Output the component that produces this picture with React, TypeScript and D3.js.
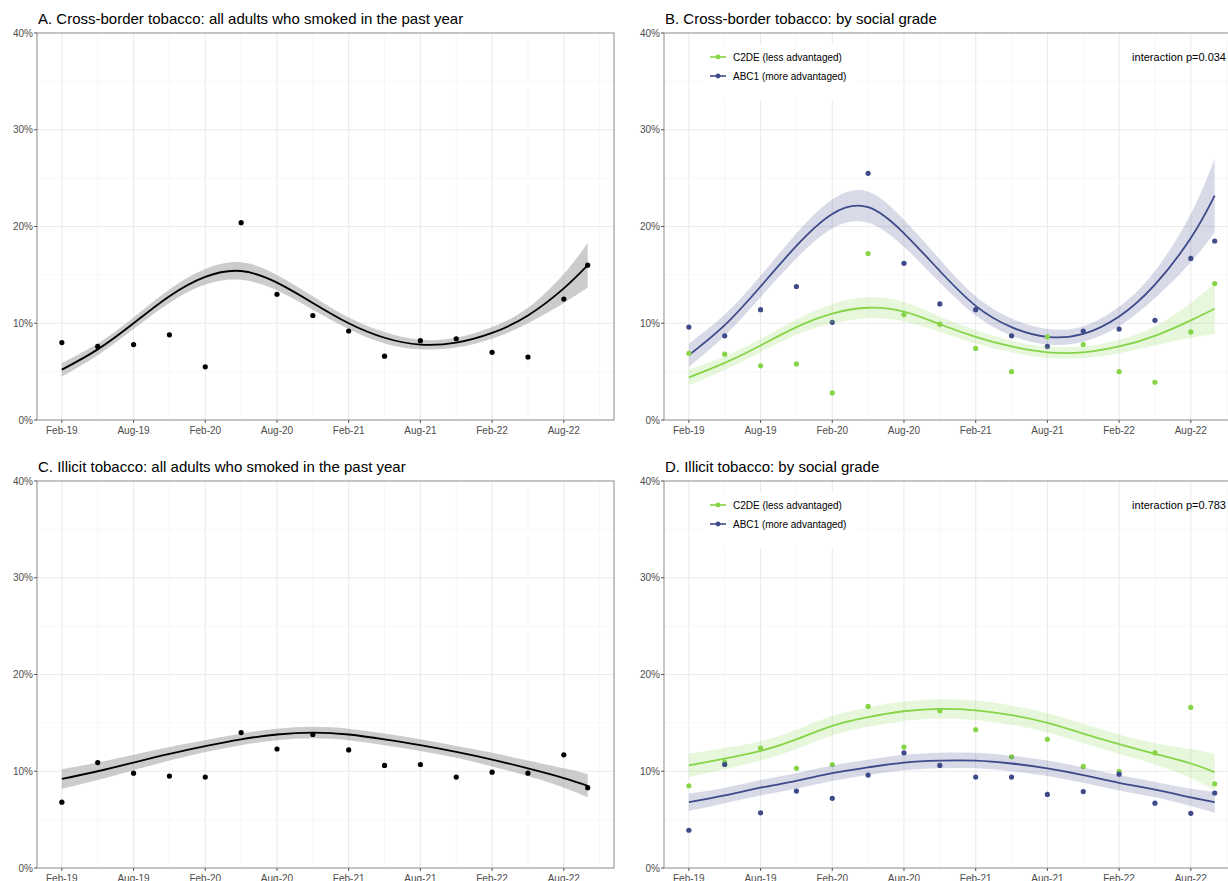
import React from "react";
import * as d3 from "d3";

const W = 1228;
const H = 881;

// months since Feb-19
const obsMonths = [0, 3, 6, 9, 12, 15, 18, 21, 24, 27, 30, 33, 36, 39, 42, 44];
const fitMonths = [0, 3, 6, 9, 12, 15, 18, 21, 24, 27, 30, 33, 36, 39, 42, 44];
const tickMonths = [0, 6, 12, 18, 24, 30, 36, 42];
const tickLabels = ["Feb-19", "Aug-19", "Feb-20", "Aug-20", "Feb-21", "Aug-21", "Feb-22", "Aug-22"];
const minorMonths = [3, 9, 15, 21, 27, 33, 39, 45];

// A
const aObs = [8.0, 7.6, 7.8, 8.8, 5.5, 20.4, 13.0, 10.8, 9.2, 6.6, 8.2, 8.4, 7.0, 6.5, 12.5, 16.0];
const aFit = [5.2, 7.3, 10.0, 12.8, 14.8, 15.4, 14.2, 12.1, 10.0, 8.5, 7.8, 8.0, 9.0, 10.8, 13.6, 16.0];
const aCI = [0.7, 0.6, 0.6, 0.7, 0.8, 0.9, 0.8, 0.7, 0.6, 0.6, 0.5, 0.5, 0.6, 0.8, 1.5, 2.3];

// B
const bAbcObs = [9.6, 8.7, 11.4, 13.8, 10.1, 25.5, 16.2, 12.0, 11.4, 8.7, 7.6, 9.2, 9.4, 10.3, 16.7, 18.5];
const bC2Obs = [6.9, 6.8, 5.6, 5.8, 2.8, 17.2, 10.9, 9.9, 7.4, 5.0, 8.6, 7.8, 5.0, 3.9, 9.1, 14.1];
const bAbcFit = [6.7, 9.8, 13.8, 18.0, 21.3, 22.0, 19.3, 15.4, 11.8, 9.6, 8.6, 8.9, 10.7, 14.0, 18.8, 23.2];
const bAbcCI = [1.2, 1.1, 1.1, 1.3, 1.5, 1.6, 1.4, 1.2, 1.0, 0.9, 0.8, 0.8, 1.0, 1.4, 2.5, 3.8];
const bC2Fit = [4.4, 5.9, 7.7, 9.6, 11.0, 11.6, 11.2, 9.9, 8.6, 7.6, 7.0, 7.0, 7.6, 8.7, 10.3, 11.5];
const bC2CI = [0.8, 0.7, 0.7, 0.8, 1.0, 1.1, 1.0, 0.8, 0.7, 0.6, 0.6, 0.6, 0.7, 1.0, 1.8, 2.6];

// C
const cObs = [6.8, 10.9, 9.8, 9.5, 9.4, 14.0, 12.3, 13.8, 12.2, 10.6, 10.7, 9.4, 9.9, 9.8, 11.7, 8.3];
const cFit = [9.2, 10.0, 10.9, 11.8, 12.6, 13.3, 13.8, 14.0, 13.8, 13.3, 12.7, 12.0, 11.2, 10.3, 9.3, 8.5];
const cCI = [1.0, 0.9, 0.8, 0.7, 0.6, 0.6, 0.6, 0.6, 0.6, 0.6, 0.6, 0.6, 0.7, 0.8, 1.0, 1.2];

// D
const dC2Obs = [8.5, 10.95, 12.4, 10.3, 10.7, 16.7, 12.5, 16.25, 14.3, 11.5, 13.3, 10.5, 10.0, 11.9, 16.6, 8.7];
const dAbcObs = [3.9, 10.7, 5.7, 7.95, 7.2, 9.6, 11.9, 10.6, 9.4, 9.4, 7.6, 7.9, 9.7, 6.7, 5.65, 7.75];
const dC2Fit = [10.6, 11.3, 12.1, 13.3, 14.7, 15.6, 16.2, 16.45, 16.3, 15.8, 15.0, 13.9, 12.8, 11.8, 10.8, 9.9];
const dC2CI = [1.2, 1.1, 1.0, 1.0, 1.0, 1.0, 1.0, 1.0, 1.0, 1.0, 1.0, 1.0, 1.0, 1.1, 1.5, 1.9];
const dAbcFit = [6.8, 7.5, 8.3, 9.0, 9.8, 10.4, 10.9, 11.1, 11.1, 10.8, 10.3, 9.6, 8.8, 8.1, 7.3, 6.8];
const dAbcCI = [0.9, 0.8, 0.8, 0.8, 0.8, 0.8, 0.8, 0.8, 0.8, 0.8, 0.8, 0.8, 0.8, 0.8, 0.9, 1.1];

const GREEN = "#86d549";
const NAVY = "#3e4a89";

type Series = { obs: number[]; fit: number[]; ci: number[]; color: string; band: string };

function Panel({ x0, y0, title, series, legend, pLabel }: {
  x0: number; y0: number; title: string; series: Series[]; legend?: boolean; pLabel?: string;
}) {
  const pw = 577, ph = 387;
  const x = d3.scaleLinear().domain([-2.08, 46.2]).range([x0, x0 + pw]);
  const y = d3.scaleLinear().domain([0, 40]).range([y0 + ph, y0]);
  const line = d3.line<number>().x((_, i) => x(fitMonths[i])).y(d => y(d)).curve(d3.curveNatural);
  const area = (s: Series) => d3.area<number>()
    .x((_, i) => x(fitMonths[i]))
    .y0((d, i) => y(d - s.ci[i]))
    .y1((d, i) => y(d + s.ci[i]))
    .curve(d3.curveNatural)(s.fit) as string;
  const font = "Liberation Sans, Arial, sans-serif";
  return (
    <g fontFamily={font}>
      <text x={x0 + 1} y={y0 - 9} fontSize={15} fill="#000">{title}</text>
      <rect x={x0} y={y0} width={pw} height={ph} fill="#fff" />
      {[5, 15, 25, 35].map(v => <line key={"ym" + v} x1={x0} x2={x0 + pw} y1={y(v)} y2={y(v)} stroke="#f2f2f2" strokeWidth={0.6} />)}
      {minorMonths.map(m => <line key={"xm" + m} x1={x(m)} x2={x(m)} y1={y0} y2={y0 + ph} stroke="#f2f2f2" strokeWidth={0.6} />)}
      {[10, 20, 30].map(v => <line key={"y" + v} x1={x0} x2={x0 + pw} y1={y(v)} y2={y(v)} stroke="#ebebeb" strokeWidth={1.1} />)}
      {tickMonths.map(m => <line key={"x" + m} x1={x(m)} x2={x(m)} y1={y0} y2={y0 + ph} stroke="#ebebeb" strokeWidth={1.1} />)}
      {series.map((s, k) => (
        <g key={k}>
          <path d={area(s)} fill={s.band} />
          <path d={line(s.fit) as string} fill="none" stroke={s.color} strokeWidth={1.8} />
          {s.obs.map((v, i) => <circle key={i} cx={x(obsMonths[i])} cy={y(v)} r={2.6} fill={s.color} />)}
        </g>
      ))}
      <rect x={x0} y={y0} width={pw} height={ph} fill="none" stroke="#8a8a8a" strokeWidth={1} />
      {[0, 10, 20, 30, 40].map(v => (
        <g key={"yt" + v}>
          <line x1={x0 - 3} x2={x0} y1={y(v)} y2={y(v)} stroke="#555" />
          <text x={x0 - 4} y={y(v)} dy="0.35em" textAnchor="end" fontSize={10} fill="#4d4d4d">{v}%</text>
        </g>
      ))}
      {tickMonths.map((m, i) => (
        <g key={"xt" + m}>
          <line x1={x(m)} x2={x(m)} y1={y0 + ph} y2={y0 + ph + 3} stroke="#555" />
          <text x={x(m)} y={y0 + ph + 14} textAnchor="middle" fontSize={10} fill="#4d4d4d">{tickLabels[i]}</text>
        </g>
      ))}
      {legend && (
        <g>
          <rect x={x0 + 40} y={y0 + 12} width={155} height={55} fill="#fff" />
          {[{ c: GREEN, t: "C2DE (less advantaged)" }, { c: NAVY, t: "ABC1 (more advantaged)" }].map((l, i) => (
            <g key={i} transform={`translate(${x0 + 46},${y0 + 24 + i * 19})`}>
              <line x1={0} x2={16} stroke={l.c} strokeWidth={1.6} />
              <circle cx={8} cy={0} r={2.4} fill={l.c} />
              <text x={23} dy="0.35em" fontSize={10} fill="#000">{l.t}</text>
            </g>
          ))}
        </g>
      )}
      {pLabel && <text x={W - 2} y={y0 + 24} dy="0.35em" textAnchor="end" fontSize={11} fill="#000">{pLabel}</text>}
    </g>
  );
}

export default function App() {
  const blk = "#000";
  const grey = "rgba(153,153,153,0.5)";
  const navyBand = "rgba(62,74,137,0.2)";
  const greenBand = "rgba(134,213,73,0.2)";
  return (
    <div style={{ position: "fixed", left: 0, top: 0 }}>
      <svg width={W} height={H} style={{ display: "block", background: "#fff" }}>
        <Panel x0={37} y0={33} title="A. Cross-border tobacco: all adults who smoked in the past year"
          series={[{ obs: aObs, fit: aFit, ci: aCI, color: blk, band: grey }]} />
        <Panel x0={664} y0={33} title="B. Cross-border tobacco: by social grade" legend pLabel="interaction p=0.034"
          series={[
            { obs: bAbcObs, fit: bAbcFit, ci: bAbcCI, color: NAVY, band: navyBand },
            { obs: bC2Obs, fit: bC2Fit, ci: bC2CI, color: GREEN, band: greenBand },
          ]} />
        <Panel x0={37} y0={481} title="C. Illicit tobacco: all adults who smoked in the past year"
          series={[{ obs: cObs, fit: cFit, ci: cCI, color: blk, band: grey }]} />
        <Panel x0={664} y0={481} title="D. Illicit tobacco: by social grade" legend pLabel="interaction p=0.783"
          series={[
            { obs: dC2Obs, fit: dC2Fit, ci: dC2CI, color: GREEN, band: greenBand },
            { obs: dAbcObs, fit: dAbcFit, ci: dAbcCI, color: NAVY, band: navyBand },
          ]} />
      </svg>
    </div>
  );
}
